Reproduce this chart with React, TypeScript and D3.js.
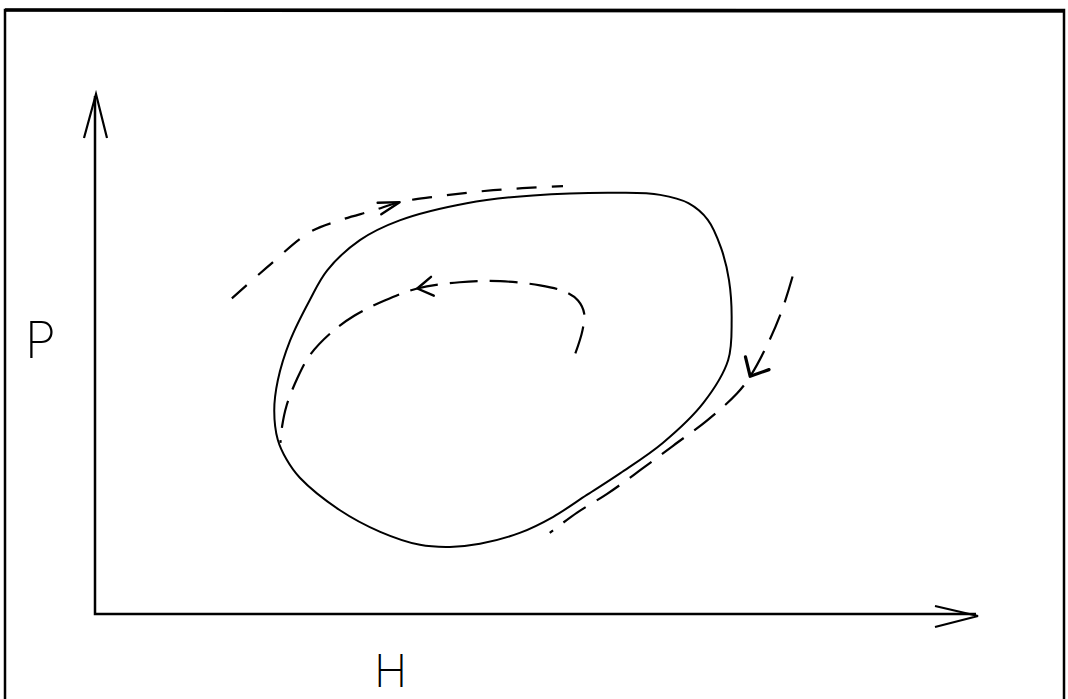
import React from "react";
import * as d3 from "d3";

// Phase plane: H (horizontal) vs P (vertical), arbitrary units 0..10
const axisMax = 10;
const xLabel = "H";
const yLabel = "P";

// Limit cycle (closed, solid)
const limitCycle: [number, number][] = [
  [2.03, 3.91], [2.07, 4.49], [2.21, 5.26], [2.43, 6.03], [2.63, 6.61],
  [3.0, 7.19], [3.45, 7.57], [4.21, 7.9], [4.96, 8.05], [5.95, 8.1],
  [6.4, 8.06], [6.72, 7.9], [6.94, 7.58], [7.09, 7.04], [7.18, 6.42],
  [7.21, 5.65], [7.17, 4.88], [6.89, 4.06], [6.43, 3.29], [5.95, 2.71],
  [5.57, 2.29], [5.19, 1.87], [4.81, 1.56], [4.36, 1.35], [4.02, 1.29],
  [3.68, 1.33], [3.23, 1.58], [2.77, 2.0], [2.32, 2.62], [2.17, 2.97],
  [2.07, 3.35],
];

// Outer trajectory approaching from upper-left (dashed)
const outerTrajectory: [number, number][] = [
  [1.55, 6.07], [1.95, 6.67], [2.43, 7.34], [2.77, 7.57], [3.15, 7.76],
  [3.45, 7.92], [3.83, 8.02], [4.51, 8.15], [5.3, 8.23],
];
const outerArrowIndex = 5;

// Inner trajectory spiralling out from the interior (dashed)
const innerTrajectory: [number, number][] = [
  [5.44, 5.01], [5.52, 5.45], [5.54, 5.78], [5.47, 6.03], [5.32, 6.2],
  [5.04, 6.32], [4.59, 6.4], [4.13, 6.38], [3.65, 6.26], [3.28, 6.03],
  [2.94, 5.74], [2.66, 5.39], [2.43, 4.97], [2.29, 4.53], [2.17, 4.01],
  [2.12, 3.62], [2.1, 3.29],
];
const innerArrowIndex = 8;

// Right trajectory approaching from upper-right (dashed)
const rightTrajectory: [number, number][] = [
  [7.9, 6.49], [7.78, 5.84], [7.62, 5.2], [7.42, 4.57], [7.27, 4.24],
  [6.93, 3.72], [6.55, 3.24], [6.17, 2.76], [5.8, 2.31], [5.46, 1.95],
  [5.15, 1.56],
];
const rightArrowIndex = 3;

const W = 1068;
const H = 699;

export default function App() {
  const x = d3.scaleLinear().domain([0, axisMax]).range([95, 978]);
  const y = d3.scaleLinear().domain([0, axisMax]).range([614, 94]);

  const closedLine = d3
    .line<[number, number]>()
    .x((d) => x(d[0]))
    .y((d) => y(d[1]))
    .curve(d3.curveCatmullRomClosed.alpha(0.5));
  const openLine = d3
    .line<[number, number]>()
    .x((d) => x(d[0]))
    .y((d) => y(d[1]))
    .curve(d3.curveCatmullRom.alpha(0.5));

  const arrowHead = (
    pts: [number, number][],
    idx: number,
    len: number,
    spread: number,
    key: string,
    sw: number
  ) => {
    const tip = [x(pts[idx][0]), y(pts[idx][1])];
    const prev = [x(pts[idx - 1][0]), y(pts[idx - 1][1])];
    const back = Math.atan2(prev[1] - tip[1], prev[0] - tip[0]);
    const a1 = back + (spread * Math.PI) / 180;
    const a2 = back - (spread * Math.PI) / 180;
    const p1 = [tip[0] + len * Math.cos(a1), tip[1] + len * Math.sin(a1)];
    const p2 = [tip[0] + len * Math.cos(a2), tip[1] + len * Math.sin(a2)];
    return (
      <path
        key={key}
        d={`M${p1[0]},${p1[1]}L${tip[0]},${tip[1]}L${p2[0]},${p2[1]}`}
        fill="none"
        stroke="#000"
        strokeWidth={sw}
        strokeLinecap="round"
        strokeLinejoin="round"
      />
    );
  };

  const x0 = x(0);
  const y0 = y(0);
  const xEnd = x(axisMax);
  const yEnd = y(axisMax);

  return (
    <svg
      width={W}
      height={H}
      style={{ position: "absolute", left: 0, top: 0, background: "#fff" }}
    >
      <rect x={5} y={10} width={1059} height={692} fill="#fff" stroke="#000" strokeWidth={2.5} />
      <line x1={5} y1={10} x2={1064} y2={11} stroke="#000" strokeWidth={3.5} />

      {/* axes */}
      <path
        d={`M${x0},${yEnd + 2}L${x0},${y0}L${xEnd - 2},${y0}`}
        fill="none"
        stroke="#000"
        strokeWidth={2.5}
      />
      <path
        d={`M${x0 - 11},${yEnd + 44}L${x0 + 1},${yEnd}L${x0 + 12},${yEnd + 44}`}
        fill="none"
        stroke="#000"
        strokeWidth={2.2}
      />
      <path
        d={`M${xEnd - 43},${y0 - 8}L${xEnd},${y0 + 2}L${xEnd - 43},${y0 + 13}`}
        fill="none"
        stroke="#000"
        strokeWidth={2.2}
      />

      {/* limit cycle */}
      <path d={closedLine(limitCycle) || ""} fill="none" stroke="#000" strokeWidth={2} />

      {/* trajectories */}
      <path
        d={openLine(outerTrajectory) || ""}
        fill="none"
        stroke="#000"
        strokeWidth={2.2}
        strokeDasharray="20 15"
      />
      <path
        d={openLine(innerTrajectory) || ""}
        fill="none"
        stroke="#000"
        strokeWidth={2.2}
        strokeDasharray="28 12"
      />
      <path
        d={openLine(rightTrajectory) || ""}
        fill="none"
        stroke="#000"
        strokeWidth={2.2}
        strokeDasharray="27 13"
      />
      {arrowHead(outerTrajectory, outerArrowIndex, 22, 16, "a1", 2.4)}
      {arrowHead(innerTrajectory, innerArrowIndex, 18, 32, "a2", 2.4)}
      {arrowHead(rightTrajectory, rightArrowIndex, 20, 42, "a3", 3.2)}

      {/* labels */}
      <text
        x={25}
        y={358}
        fontFamily="Inter, 'DejaVu Sans', sans-serif"
        fontWeight={200}
        fontSize={50}
        fill="#000"
      >
        {yLabel}
      </text>
      <text
        x={374}
        y={687}
        fontFamily="Inter, 'DejaVu Sans', sans-serif"
        fontWeight={200}
        fontSize={45}
        fill="#000"
      >
        {xLabel}
      </text>
    </svg>
  );
}
